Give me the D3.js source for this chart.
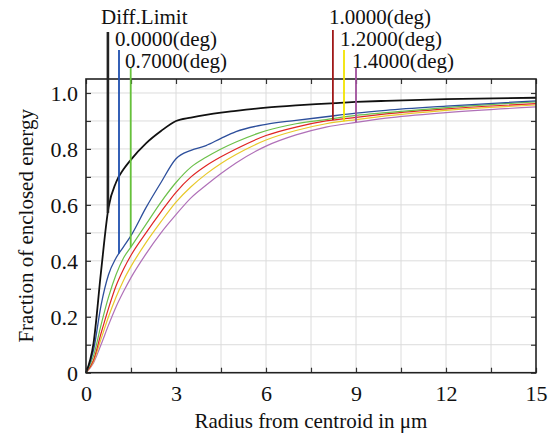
<!DOCTYPE html>
<html>
<head>
<meta charset="utf-8">
<script src="https://cdn.jsdelivr.net/npm/d3@7"></script>
<style>
  body { margin: 0; background: #fff; }
  svg text { font-family: "Liberation Serif", "DejaVu Serif", Times, serif !important; fill: #111; }
</style>
</head>
<body>
<div id="chart"></div>
<script>
// radius samples (um) shared by every curve
var radius = [0, 0.25, 0.5, 0.75, 1, 1.25, 1.5, 2, 2.5, 3, 3.5, 4, 4.5, 5, 6, 7, 8, 9, 10, 12, 15];

// fraction of enclosed energy
var diffLimit = [0, 0.105, 0.36, 0.59, 0.68, 0.727, 0.762, 0.82, 0.864, 0.90, 0.912, 0.922, 0.93, 0.936, 0.948, 0.956, 0.962, 0.968, 0.972, 0.978, 0.983];
var field00 = [0, 0.08, 0.24, 0.35, 0.41, 0.45, 0.49, 0.59, 0.68, 0.765, 0.795, 0.812, 0.838, 0.862, 0.888, 0.902, 0.915, 0.928, 0.938, 0.953, 0.972];
var field07 = [0, 0.06, 0.17, 0.27, 0.35, 0.41, 0.45, 0.53, 0.61, 0.68, 0.735, 0.77, 0.80, 0.825, 0.865, 0.89, 0.905, 0.92, 0.93, 0.948, 0.968];
var field10 = [0, 0.045, 0.14, 0.23, 0.31, 0.37, 0.42, 0.50, 0.575, 0.645, 0.70, 0.74, 0.772, 0.80, 0.848, 0.878, 0.90, 0.913, 0.925, 0.943, 0.962];
var field12 = [0, 0.04, 0.12, 0.20, 0.27, 0.33, 0.38, 0.465, 0.54, 0.61, 0.665, 0.71, 0.748, 0.78, 0.832, 0.866, 0.89, 0.905, 0.918, 0.938, 0.957];
var field14 = [0, 0.035, 0.10, 0.17, 0.235, 0.29, 0.34, 0.425, 0.50, 0.565, 0.625, 0.67, 0.712, 0.75, 0.81, 0.85, 0.878, 0.895, 0.91, 0.93, 0.95];

var seriesNames = ["Diff.Limit", "0.0000(deg)", "0.7000(deg)", "1.0000(deg)", "1.2000(deg)", "1.4000(deg)"];
// radius where each legend pointer meets its curve
var markerRadius = [0.73, 1.1, 1.49, 8.23, 8.6, 9.0];

var xTicks = [0, 1.5, 3, 4.5, 6, 7.5, 9, 10.5, 12, 13.5, 15];
var yTicks = [0, 0.1, 0.2, 0.3, 0.4, 0.5, 0.6, 0.7, 0.8, 0.9, 1.0];

var series = [
  {name: seriesNames[0], values: diffLimit, marker: markerRadius[0], color: "#111111", pointer: "#222222", width: 1.8, pw: 2.6, lx: 101, ly: 24, y0: 32},
  {name: seriesNames[1], values: field00, marker: markerRadius[1], color: "#2d4f9c", pointer: "#1f4fae", width: 1.3, pw: 1.8, lx: 115, ly: 46, y0: 50},
  {name: seriesNames[2], values: field07, marker: markerRadius[2], color: "#6cc04a", pointer: "#66c23a", width: 1.2, pw: 1.8, lx: 125, ly: 68, y0: 68},
  {name: seriesNames[3], values: field10, marker: markerRadius[3], color: "#e02424", pointer: "#a01818", width: 1.2, pw: 1.8, lx: 329, ly: 24, y0: 30},
  {name: seriesNames[4], values: field12, marker: markerRadius[4], color: "#e8c92a", pointer: "#f2e400", width: 1.2, pw: 1.8, lx: 340, ly: 46, y0: 50},
  {name: seriesNames[5], values: field14, marker: markerRadius[5], color: "#b070b8", pointer: "#a0509c", width: 1.2, pw: 1.8, lx: 352, ly: 68, y0: 68}
];

var W = 559, H = 434;
var plotL = 86, plotR = 536, plotT = 79, plotB = 372.7;
var serif = '"Liberation Serif", "DejaVu Serif", Times, serif';

var svg = d3.select("#chart").append("svg")
    .attr("width", W)
    .attr("height", H);

var x = d3.scaleLinear().domain([0, 15]).range([plotL, plotR]);
var y = d3.scaleLinear().domain([0, 1.05]).range([plotB, plotT]);

// grid
svg.append("g").selectAll("line")
    .data(xTicks.slice(1, -1))
    .enter().append("line")
    .attr("x1", function(d) { return x(d); })
    .attr("x2", function(d) { return x(d); })
    .attr("y1", plotT).attr("y2", plotB)
    .attr("stroke", "#dcdcdc").attr("stroke-width", 1);

svg.append("g").selectAll("line")
    .data(yTicks.slice(1))
    .enter().append("line")
    .attr("y1", function(d) { return y(d); })
    .attr("y2", function(d) { return y(d); })
    .attr("x1", plotL).attr("x2", plotR)
    .attr("stroke", "#dcdcdc").attr("stroke-width", 1);

// curves
var line = d3.line()
    .x(function(d) { return x(d[0]); })
    .y(function(d) { return y(d[1]); })
    .curve(d3.curveMonotoneX);

svg.append("g").selectAll("path")
    .data(series.slice().reverse())
    .enter().append("path")
    .attr("fill", "none")
    .attr("stroke", function(d) { return d.color; })
    .attr("stroke-width", function(d) { return d.width; })
    .attr("d", function(d) {
      return line(radius.map(function(r, i) { return [r, d.values[i]]; }));
    });

// axes: ticks point inward on all four sides
function fmtY(d, i) {
  if (i % 2) return "";
  return d === 0 ? "0" : d3.format(".1f")(d);
}
function fmtX(d, i) {
  return i % 2 ? "" : d3.format("d")(d);
}

var axL = svg.append("g").attr("transform", "translate(" + plotL + ",0)")
    .call(d3.axisLeft(y).tickValues(yTicks).tickSize(-5).tickPadding(8).tickFormat(fmtY));
var axR = svg.append("g").attr("transform", "translate(" + plotR + ",0)")
    .call(d3.axisRight(y).tickValues(yTicks).tickSize(-5).tickFormat(""));
var axB = svg.append("g").attr("transform", "translate(0," + plotB + ")")
    .call(d3.axisBottom(x).tickValues(xTicks).tickSize(-5).tickPadding(13).tickFormat(fmtX));
var axT = svg.append("g").attr("transform", "translate(0," + plotT + ")")
    .call(d3.axisTop(x).tickValues(xTicks).tickSize(-5).tickFormat(""));

[axL, axR, axB, axT].forEach(function(a) {
  a.attr("font-family", serif);
  a.select(".domain").remove();
  a.selectAll(".tick line").attr("stroke", "#333").attr("stroke-width", 1.2);
  a.selectAll("text").style("font-size", "22px").style("font-family", serif).attr("fill", "#111");
});
axL.selectAll("text").attr("dy", "0.35em");

// frame
svg.append("rect")
    .attr("x", plotL).attr("y", plotT)
    .attr("width", plotR - plotL).attr("height", plotB - plotT)
    .attr("fill", "none").attr("stroke", "#222").attr("stroke-width", 1.6);

// legend pointers down to each curve
function valueAt(values, r) {
  return d3.scaleLinear().domain(radius).range(values)(r);
}

var legend = svg.append("g").selectAll("g")
    .data(series)
    .enter().append("g");

legend.append("line")
    .attr("x1", function(d) { return x(d.marker); })
    .attr("x2", function(d) { return x(d.marker); })
    .attr("y1", function(d) { return d.y0; })
    .attr("y2", function(d) { return y(valueAt(d.values, d.marker)); })
    .attr("stroke", function(d) { return d.pointer; })
    .attr("stroke-width", function(d) { return d.pw; });

legend.append("text")
    .attr("x", function(d) { return d.lx; })
    .attr("y", function(d) { return d.ly; })
    .style("font-family", serif)
    .style("font-size", "21px")
    .text(function(d) { return d.name; });

// axis titles
svg.append("text")
    .attr("x", (plotL + plotR) / 2)
    .attr("y", 428)
    .attr("text-anchor", "middle")
    .style("font-family", serif)
    .style("font-size", "21px")
    .text("Radius from centroid in \u03bcm");

svg.append("text")
    .attr("transform", "translate(26," + ((plotT + plotB) / 2) + ") rotate(-90)")
    .attr("text-anchor", "middle")
    .attr("dy", "0.35em")
    .style("font-family", serif)
    .style("font-size", "21px")
    .text("Fraction of enclosed energy");
</script>
</body>
</html>
